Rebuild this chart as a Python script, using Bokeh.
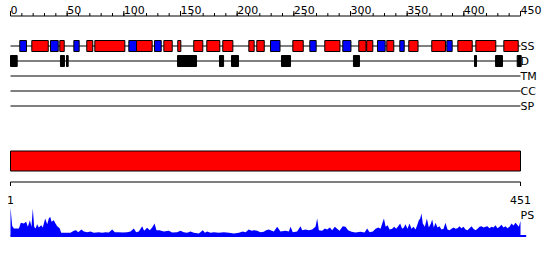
from bokeh.plotting import figure
from bokeh.models import Range1d
from bokeh.embed import file_html
from bokeh.resources import INLINE
from bokeh.core.properties import value

# ---------------- data ----------------
seq_len = 451
ruler_major = [0, 50, 100, 150, 200, 250, 300, 350, 400, 450]
ruler_minor = list(range(0, 451, 10))
end_labels = ["1", "451"]
track_names = ["SS", "D", "TM", "CC", "SP"]

helix_start = [18.8, 43.5, 67.3, 74.4, 111.2, 135.3, 147.6, 161.7, 173.2, 187.3, 210.3,
               217.3, 249.1, 277.3, 307.3, 314.3, 332.0, 351.4, 371.7, 394.7, 410.6, 435.3]
helix_end = [33.3, 47.4, 72.6, 100.9, 125.0, 142.7, 150.3, 169.7, 184.7, 196.2, 215.0,
             223.9, 258.3, 290.7, 313.7, 319.7, 338.2, 359.6, 383.8, 407.4, 428.2, 448.0]

strand_start = [8.2, 35.3, 55.9, 104.4, 127.1, 229.4, 264.1, 293.2, 323.8, 343.5, 385.0]
strand_end = [14.1, 42.1, 60.6, 111.2, 133.0, 237.8, 269.7, 300.4, 330.6, 347.4, 389.7]

disorder_start = [0.0, 44.1, 49.4, 147.4, 184.4, 195.0, 239.1, 302.6, 409.4, 428.0, 447.1]
disorder_end = [5.9, 47.6, 50.9, 164.1, 188.0, 201.2, 247.1, 307.9, 411.2, 434.1, 450.6]

ps_pos = [0, 1.5, 3, 4.4, 7.4, 9.1, 11.8, 13.8, 15.3, 17.1, 18.5, 19.7, 20.9, 22.1, 23.5, 25,
          27.1, 28.5, 30.6, 32.4, 33.8, 35, 36.2, 38.2, 39.7, 41.2, 42.6, 43.5, 44.7, 48.5,
          52.9, 55.9, 57.9, 59.7, 62.6, 64.7, 67.7, 70.6, 73.5, 77.9, 80.9, 83.8, 86.8, 89.7,
          92.1, 95.6, 99.1, 102.9, 105.9, 108.8, 110.9, 113.2, 116.2, 117.9, 120.6, 122.9,
          125, 127.1, 128.8, 131.5, 135.3, 139.7, 142.6, 147, 150, 152.9, 155.9, 158.8, 161.8,
          166.2, 169.7, 171.5, 173.5, 176.5, 179.4, 183.8, 188.3, 192.7, 197.1, 201.5, 205,
          207.4, 210.3, 212.7, 215, 217.6, 220.6, 223.5, 225.6, 227.9, 229.4, 232.4, 235.3,
          238.2, 242.6, 245.6, 247.1, 249.1, 252.9, 255.9, 257.4, 260.3, 263.2, 266.2, 269.1,
          270.6, 272.1, 275, 277.4, 279.4, 281.8, 283.8, 286.2, 288.2, 290.3, 293.2, 295.6,
          297.9, 300.9, 304.4, 308.8, 312.4, 314.7, 316.8, 319.8, 322.1, 324.5, 326.5, 328,
          329.5, 331, 332.7, 334.5, 336.8, 338.6, 340.3, 342.1, 343.8, 345.6, 347.1, 348.5,
          350.3, 352.1, 353.8, 355.6, 357.4, 358.8, 360.3, 361.5, 362.6, 363.8, 365.6, 367.4,
          369.1, 370.9, 372.1, 373.5, 375, 376.8, 378.5, 380.3, 382.1, 383.8, 385.6, 387.4,
          389.1, 391.2, 392.6, 394.4, 396.2, 397.9, 399.7, 401.5, 403.2, 405, 406.8, 408.5,
          410.3, 412.1, 413.8, 415.6, 417.4, 419.1, 420.9, 422.6, 424.4, 426.2, 427.9, 429.7,
          431.5, 433.2, 435, 436.8, 438.5, 440.3, 442.1, 443.8, 445.6, 447.1, 448.5, 450]
ps_val = [28.5, 10, 7.5, 7.5, 7.5, 13.2, 12.5, 14.2, 9.2, 15.8, 9.2, 27.5, 9.2, 7.5, 11.8, 8.5,
          10.8, 8.5, 17.5, 11.8, 17.5, 19.2, 14.2, 15.8, 12.5, 9.8, 8.5, 7.5, 3.2, 3.2,
          3.2, 5.2, 5.8, 3.8, 6.5, 4.5, 3.8, 4.5, 3.2, 3.8, 3.2, 3.8, 3.5, 6.5,
          3.8, 3.8, 3.5, 3.8, 4.5, 7.5, 3.8, 4.5, 9.8, 5.2, 8.2, 5.8,
          8.5, 12.5, 5.8, 5.8, 4.5, 5.2, 3.5, 3.8, 5.2, 3.8, 3.2, 4.5, 3.2,
          2.5, 5.8, 3.2, 4.5, 3.2, 3.8, 3.2, 3.8, 3.2, 2.5, 3.2, 4.5,
          3.8, 6.5, 5.2, 5.8, 5.2, 3.8, 4.2, 5.8, 6.5, 5.8, 4.5, 9.2,
          4.5, 5.2, 4.5, 9.2, 3.8, 4.5, 9.8, 5.8, 6.5, 5.8, 6.5, 9.2,
          17.5, 5.8, 5.2, 7.5, 6.5, 8.5, 5.8, 9.2, 7.2, 5.2, 9.8, 9.2,
          5.8, 4.2, 3.5, 4.2, 3.5, 7.5, 3.8, 4.5, 7.2, 8.5, 7.2, 12.5,
          17.5, 9.2, 10.8, 6.5, 7.2, 9.2, 7.2, 9.8, 12.5, 7.2, 8.5, 11.8,
          7.2, 12.5, 7.2, 9.2, 6.5, 10.8, 15.8, 17.5, 22.5, 12.5, 9.2, 17.5,
          8.5, 12.5, 16.5, 8.5, 13.2, 8.5, 9.8, 6.5, 7.2, 13.2, 6.5, 5.8,
          7.2, 8.5, 7.2, 7.8, 9.8, 7.8, 9.2, 6.5, 5.8, 7.8, 9.8, 7.2,
          5.8, 7.2, 9.2, 9.8, 8.5, 9.2, 9.8, 7.8, 9.2, 8.5, 10.8, 7.8,
          9.2, 11.2, 8.5, 9.8, 7.8, 9.2, 12.5, 10.5, 13.2, 11.2, 9.2, 15]

# ---------------- layout ----------------
W, H = 550, 260
S = 510.0 / 450.0          # pixels per residue
X0 = 10.0                  # pixel column of position 0
FONT = value("DejaVu Sans")
FS = "11px"

p = figure(width=W, height=H, output_backend="svg", toolbar_location=None,
           x_axis_type=None, y_axis_type=None, min_border=0,
           x_range=Range1d(-X0 / S, (W - X0) / S), y_range=Range1d(H, 0))
p.outline_line_color = None
p.background_fill_color = "white"
p.border_fill_color = "white"

last = seq_len - 1
# top ruler
ruler_y = 15.5
p.segment(x0=[0], y0=[ruler_y], x1=[last], y1=[ruler_y], line_color="black", line_width=1)
p.segment(x0=ruler_minor, y0=[ruler_y] * len(ruler_minor), x1=ruler_minor,
          y1=[ruler_y - 3] * len(ruler_minor), line_color="black", line_width=1)
p.segment(x0=ruler_major, y0=[ruler_y] * len(ruler_major), x1=ruler_major,
          y1=[ruler_y - 5] * len(ruler_major), line_color="black", line_width=1)
p.text(x=ruler_major, y=[9.5] * len(ruler_major), text=[str(v) for v in ruler_major],
       text_align="left", text_baseline="alphabetic", text_font=FONT,
       text_font_size=FS, text_color="black")

# tracks
track_y = [45.5, 60.5, 75.5, 90.5, 105.5]
p.segment(x0=[0] * 5, y0=track_y, x1=[last] * 5, y1=track_y, line_color="black", line_width=1)
p.text(x=[last] * 5, y=track_y, text=track_names, text_align="left", text_baseline="middle",
       text_font=FONT, text_font_size=FS, text_color="black")

bh = 5.5
p.quad(left=helix_start, right=helix_end, top=[track_y[0] - bh] * len(helix_start),
       bottom=[track_y[0] + bh] * len(helix_start), fill_color="#ff0000",
       line_color="black", line_width=1)
p.quad(left=strand_start, right=strand_end, top=[track_y[0] - bh] * len(strand_start),
       bottom=[track_y[0] + bh] * len(strand_start), fill_color="#0000ff",
       line_color="black", line_width=1)
p.quad(left=disorder_start, right=disorder_end, top=[track_y[1] - bh] * len(disorder_start),
       bottom=[track_y[1] + bh] * len(disorder_start), fill_color="black",
       line_color="black", line_width=1)

# sequence bar
p.quad(left=[0], right=[last], top=[150.5], bottom=[170.5], fill_color="#ff0000",
       line_color="black", line_width=1)

# bottom ruler
by = 181.5
ends = [0, last]
p.segment(x0=[0], y0=[by], x1=[last], y1=[by], line_color="black", line_width=1)
p.segment(x0=ends, y0=[by] * 2, x1=ends, y1=[by + 4] * 2, line_color="black", line_width=1)
p.text(x=ends, y=[199.5] * 2, text=end_labels, text_align="center", text_baseline="alphabetic",
       text_font=FONT, text_font_size=FS, text_color="black")

# PS profile
p.extra_y_ranges = {"ps": Range1d(start=235.5 - H, end=235.5)}
p.varea(x=ps_pos, y1=[0] * len(ps_pos), y2=ps_val, y_range_name="ps", fill_color="#0000ff")
p.segment(x0=[0], y0=[0], x1=[seq_len + 4], y1=[0], y_range_name="ps",
          line_color="#0000ff", line_width=2)
p.text(x=[last], y=[215], text=["PS"], text_align="left", text_baseline="alphabetic",
       text_font=FONT, text_font_size=FS, text_color="black")

open("out.html", "w").write(file_html(p, INLINE))
